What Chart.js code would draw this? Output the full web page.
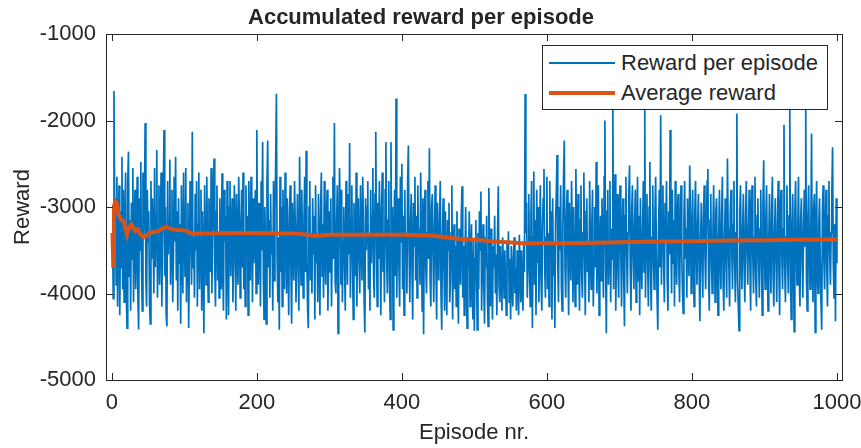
<!DOCTYPE html>
<html>
<head>
<meta charset="utf-8">
<script src="https://cdn.jsdelivr.net/npm/chart.js@4.4.1/dist/chart.umd.min.js"></script>
<style>
  html, body { margin: 0; padding: 0; background: #fff; }
  #wrap { position: relative; width: 861px; height: 448px; }
  #legend { position: absolute; left: 542px; top: 45px; width: 286px; height: 65px; box-sizing: border-box;
            border: 1px solid #262626; background: #fff; color: #262626; }
  .item { position: absolute; left: 0; height: 30px; display: flex; align-items: center; white-space: nowrap; }
  .swatch { display: inline-block; width: 66px; margin-left: 6px; margin-right: 6px; }
</style>
</head>
<body>
<div id="wrap">
  <canvas id="chart" width="861" height="448"></canvas>
  <div id="legend"></div>
</div>
<script>
// reward per episode, episodes 1..1000 (20 per row)
const rewards = [
  -3300,-4060,-1660,-3100,-2900,-3900,-2650,-4150,-3200,-2750,-4250,-3050,-3700,-2420,-3950,-2800,-4100,-3350,-2600,-4000,
  -4400,-2700,-2360,-3800,-3150,-4200,-2950,-3600,-2550,-4100,-3300,-2800,-3950,-3450,-2650,-4050,-4415,-2900,-3500,-2480,
  -3700,-4200,-2600,-3350,-2950,-2030,-3850,-4150,-2800,-3400,-3050,-4100,-4350,-2700,-3600,-2900,-3250,-4000,-2550,-3700,
  -3100,-2340,-4050,-3450,-2750,-3900,-3200,-2600,-4150,-3350,-2850,-2110,-3800,-3000,-4250,-4380,-2700,-3550,-3150,-2450,
  -3900,-3300,-2800,-4100,-3600,-2650,-3400,-2420,-3850,-3050,-4200,-2900,-3650,-3200,-4350,-2750,-3500,-4000,-2600,-3300,
  -3800,-2550,-4100,-3250,-2950,-4400,-3600,-2700,-3150,-3900,-2130,-3700,-3350,-4050,-2850,-3500,-2700,-4150,-3200,-2600,
  -3950,-3400,-2800,-4200,-3050,-3600,-4460,-2750,-3300,-3900,-2650,-3550,-4100,-2900,-3250,-3750,-2550,-4000,-3350,-2850,
  -2440,-3700,-4150,-3050,-2750,-3850,-3300,-4050,-2900,-3500,-3950,-2610,-3650,-4200,-2800,-3400,-3100,-4300,-2700,-3600,
  -4250,-3000,-2700,-3800,-3350,-2900,-4100,-3600,-2750,-3250,-4200,-2850,-3500,-3900,-2650,-3150,-4050,-3400,-2800,-3700,
  -2600,-3950,-3300,-4150,-2750,-3550,-3100,-4250,-2700,-3450,-3850,-2650,-3200,-4100,-2900,-3650,-3350,-2800,-4000,-2110,
  -3600,-3900,-2950,-3250,-4150,-2700,-3500,-2250,-3800,-4300,-3000,-3450,-4350,-2750,-2230,-3700,-3150,-4050,-2850,-3550,
  -3300,-4200,-2700,-3850,-3050,-2500,-1690,-3600,-4100,-3350,-4420,-2650,-3750,-3000,-4150,-2800,-3450,-3950,-2600,-3250,
  -4000,-2900,-3550,-4250,-3100,-2750,-3700,-4350,-2950,-3400,-3850,-2700,-3200,-4100,-3500,-2850,-3650,-4200,-2420,-3300,
  -3900,-2800,-3450,-4050,-3150,-2650,-3750,-2350,-3600,-4150,-4400,-3000,-2700,-3850,-3300,-4000,-2900,-3550,-3100,-4300,
  -2750,-3650,-3350,-4100,-2850,-3500,-4250,-3000,-2600,-3800,-3200,-4050,-2700,-3450,-3900,-3100,-2800,-4200,-3600,-3050,
  -3750,-2900,-4150,-3350,-2650,-3600,-2030,-3850,-4000,-3200,-2750,-4460,-3500,-2550,-3050,-3900,-2800,-4100,-3400,-3000,
  -3650,-4200,-2700,-3250,-3900,-2850,-3550,-2260,-4050,-3150,-2750,-3700,-4300,-2950,-3400,-3800,-2600,-4150,-3250,-2900,
  -3600,-4000,-2750,-3350,-3850,-2650,-3200,-4100,-4450,-2900,-3500,-3000,-2700,-3950,-3300,-4200,-2800,-3650,-3100,-2550,
  -3800,-4050,-2850,-2130,-3450,-4150,-2950,-3600,-2700,-3300,-4250,-3050,-2600,-3750,-3350,-4100,-2800,-2250,-3550,-4000,
  -3150,-2700,-3900,-4300,-2250,-3650,-3000,-4420,-3450,-2800,-3800,-1745,-4050,-3250,-2900,-3700,-4150,-2650,-3400,-2500,
  -3950,-3100,-4250,-2800,-3600,-3300,-4000,-2700,-2290,-3500,-4100,-3200,-2850,-3750,-4300,-2950,-3450,-2650,-3850,-3100,
  -4050,-2750,-3550,-3250,-3900,-2600,-3400,-4200,-2900,-4470,-3100,-2800,-3700,-4000,-3300,-2700,-3600,-2320,-3850,-4150,
  -3000,-2850,-3550,-4100,-3250,-2750,-3700,-4300,-2950,-3450,-3850,-3100,-2700,-4000,-4420,-3350,-2900,-3650,-4200,-3050,
  -3700,-4250,-3150,-3500,-2950,-4100,-3850,-3300,-2750,-4300,-3600,-3200,-3950,-3450,-4150,-3050,-3750,-4350,-3250,-3550,
  -3900,-3100,-2760,-4050,-3450,-4250,-3650,-3000,-3850,-4400,-3350,-3700,-3050,-4150,-3550,-3200,-3900,-4300,-3400,-4430,
  -3600,-3150,-3800,-4420,-3300,-3950,-3050,-3500,-2820,-4200,-3650,-3200,-3900,-4350,-3350,-3700,-3100,-4050,-4380,-2780,
  -3550,-4150,-3250,-3850,-4300,-3450,-3700,-3100,-4000,-3550,-4250,-3300,-2760,-3900,-4100,-3450,-3750,-4200,-3350,-3650,
  -4050,-3500,-3850,-4250,-3400,-3700,-3280,-4100,-3600,-4300,-3450,-3800,-4150,-3550,-3350,-4000,-3700,-4200,-3500,-3850,
  -4250,-3320,-3650,-4100,-3500,-3900,-4200,-3400,-3750,-1695,-3300,-2950,-4050,-3450,-2850,-3750,-4150,-3100,-2700,-4400,
  -3350,-2590,-3900,-3150,-4250,-2800,-3650,-3000,-4100,-3450,-2750,-3850,-4200,-3200,-2900,-2560,-3700,-4050,-3350,-2650,
  -3950,-3300,-4150,-2700,-3550,-3050,-4300,-2900,-3800,-3400,-4400,-3150,-2850,-2400,-3650,-4100,-3000,-3500,-2750,-3900,
  -4200,-3250,-2650,-2230,-3700,-4050,-3100,-2800,-3600,-4250,-2950,-3450,-3850,-2700,-3300,-4100,-3000,-3550,-4150,-2560,
  -3400,-3900,-2850,-3650,-4200,-3150,-2750,-3800,-4050,-3300,-2600,-3550,-4250,-3050,-2900,-3750,-3400,-4100,-2700,-3500,
  -3950,-3200,-2800,-4150,-3600,-3000,-3700,-2480,-4000,-3350,-2750,-4250,-3500,-3100,-3850,-2900,-3550,-4050,-2650,-2000,
  -3650,-4460,-3050,-2800,-3900,-3400,-2700,-4100,-3250,-3600,-1880,-3950,-3100,-2620,-4200,-3450,-2850,-3750,-4050,-3000,
  -2750,-3550,-4150,-3250,-2900,-3800,-4380,-3100,-2650,-3500,-4000,-3300,-2850,-2520,-3700,-4200,-3050,-2750,-3600,-3950,
  -3200,-2800,-4100,-3450,-2650,-3850,-3100,-4250,-2900,-3550,-3950,-3300,-2700,-3750,-1880,-4050,-3200,-2850,-3650,-4150,
  -3000,-2480,-3800,-4200,-3350,-2750,-3600,-3950,-3100,-2650,-3500,-4050,-4420,-3250,-2800,-3700,-1940,-3900,-3150,-2750,
  -3600,-4100,-2950,-3400,-2700,-3850,-4200,-3050,-3550,-2110,-3300,-4000,-2800,-3650,-3150,-4150,-2700,-3450,-3900,-3050,
  -2850,-3700,-4100,-3300,-2750,-3550,-3950,-4230,-3150,-2700,-3600,-3250,-4050,-2900,-3450,-3800,-2520,-3100,-4000,-3350,
  -2800,-3650,-4150,-3050,-2700,-3500,-3900,-3200,-2850,-3750,-4320,-3400,-2950,-3600,-4050,-3100,-2750,-3550,-3950,-3250,
  -2700,-2560,-3800,-4200,-3150,-2850,-3650,-4000,-3300,-2750,-3500,-4100,-3050,-2900,-3700,-4250,-3350,-2800,-3600,-3950,
  -3100,-2650,-3850,-4200,-3400,-2900,-3600,-4050,-2440,-3250,-3700,-4150,-3000,-2800,-3500,-3950,-3200,-2700,-3650,-4100,
  -3300,-1920,-3850,-4150,-4430,-3050,-2750,-3600,-3950,-3250,-2850,-3700,-4100,-3150,-2700,-3500,-3900,-3300,-2800,-3650,
  -4200,-3050,-2750,-3550,-4000,-3350,-2650,-3800,-4150,-3100,-2900,-3600,-4050,-3250,-2800,-3700,-4250,-3000,-2460,-3500,
  -3950,-3150,-2750,-3650,-4200,-3400,-2850,-3550,-4000,-3050,-2650,-3800,-4150,-3300,-2900,-3600,-4100,-3200,-2700,-3750,
  -4250,-3000,-2800,-3550,-3950,-3250,-2050,-3700,-4100,-3350,-2750,-3600,-4000,-3100,-1860,-3850,-4300,-3200,-2850,-3650,
  -4440,-3050,-2700,-3500,-3900,-3300,-2650,-3750,-4150,-3150,-2900,-3600,-4050,-3250,-2800,-3450,-1880,-3850,-4200,-3100,
  -2750,-3550,-3950,-3350,-2150,-3700,-4100,-3000,-2850,-4450,-3400,-2700,-3800,-4000,-3200,-2900,-3650,-4100,-4420,-3050,
  -2750,-3600,-3950,-3250,-2800,-3700,-4150,-3100,-2700,-3500,-3900,-3300,-2850,-2310,-3650,-4050,-3200,-4320,-2900,-3650
]

// running average, read at these episodes
const avgEpisodes = [1, 2, 3, 5, 7, 9, 11, 13, 16, 19, 21, 24, 27, 30, 33, 36, 40, 44, 48, 52, 58, 64, 70, 75, 80, 85, 92, 100,
  106, 110, 130, 160, 200, 250, 270, 280, 300, 350, 400, 440, 460, 480, 500, 530, 566, 600, 650, 700, 750, 800, 850, 900, 950, 1000]
const avgValues = [-3300, -3680, -2990, -2940, -2960, -3080, -3120, -3150, -3160, -3260, -3320, -3230, -3200, -3250, -3280, -3260, -3320, -3350, -3330, -3300, -3290, -3280, -3250, -3225, -3250, -3260, -3265, -3268,
  -3290, -3305, -3305, -3300, -3300, -3305, -3320, -3335, -3320, -3320, -3322, -3330, -3350, -3370, -3380, -3400, -3420, -3420, -3415, -3408, -3400, -3395, -3388, -3384, -3380, -3377]

const xTicks = [0, 200, 400, 600, 800, 1000]
const yTicks = [-5000, -4000, -3000, -2000, -1000]

const BLUE = '#0072BD'
const ORANGE = '#D95319'
const INK = '#262626'
const FAMILY = '"Liberation Sans", Arial, sans-serif'
const FS = 22

// matlab style box with inward ticks
const boxPlugin = {
  id: 'box',
  afterDraw(chart) {
    const { ctx, chartArea: a, scales } = chart
    const len = 7
    ctx.save()
    ctx.strokeStyle = INK
    ctx.lineWidth = 1
    ctx.beginPath()
    xTicks.forEach(v => {
      const px = Math.round(scales.x.getPixelForValue(v)) + 0.5
      ctx.moveTo(px, a.bottom); ctx.lineTo(px, a.bottom - len)
      ctx.moveTo(px, a.top); ctx.lineTo(px, a.top + len)
    })
    yTicks.forEach(v => {
      const py = Math.round(scales.y.getPixelForValue(v)) + 0.5
      ctx.moveTo(a.left, py); ctx.lineTo(a.left + len, py)
      ctx.moveTo(a.right, py); ctx.lineTo(a.right - len, py)
    })
    ctx.stroke()
    ctx.strokeRect(Math.round(a.left) + 0.5, Math.round(a.top) + 0.5, Math.round(a.right - a.left), Math.round(a.bottom - a.top))
    ctx.restore()
  }
}

const episodes = rewards.map((_, i) => i + 1)

const chart = new Chart(document.getElementById('chart'), {
  type: 'scatter',
  data: {
    datasets: [
      { label: 'Reward per episode', data: rewards.map((r, i) => ({ x: episodes[i], y: r })), order: 1,
        showLine: true, borderColor: BLUE, backgroundColor: BLUE, borderWidth: 1.7, pointRadius: 0, tension: 0 },
      { label: 'Average reward', data: avgValues.map((v, i) => ({ x: avgEpisodes[i], y: v })), order: 0,
        showLine: true, borderColor: ORANGE, backgroundColor: ORANGE, borderWidth: 4, pointRadius: 0, tension: 0 }
    ]
  },
  options: {
    responsive: false, animation: false,
    layout: { padding: { left: 0, right: 19, top: 0, bottom: 0 } },
    plugins: {
      legend: { display: false },
      tooltip: { enabled: false },
      title: { display: true, text: 'Accumulated reward per episode', color: INK,
        font: { family: FAMILY, size: FS, weight: 'bold', lineHeight: 1 }, padding: { top: 7, bottom: 5 } }
    },
    scales: {
      x: {
        type: 'linear', min: -8, max: 1007,
        afterBuildTicks: s => { s.ticks = xTicks.map(v => ({ value: v })) },
        afterFit: s => { s.height = 68; s.paddingLeft = 0; s.paddingRight = 0 },
        grid: { display: false, drawTicks: false },
        border: { display: false },
        ticks: { color: INK, padding: 12, maxRotation: 0, callback: v => String(v),
          font: { family: FAMILY, size: FS, lineHeight: 1 } },
        title: { display: true, text: 'Episode nr.', color: INK, padding: { top: 0, bottom: 4 },
          font: { family: FAMILY, size: FS, lineHeight: 1 } }
      },
      y: {
        min: -5000, max: -1000,
        afterBuildTicks: s => { s.ticks = yTicks.map(v => ({ value: v })) },
        afterFit: s => { s.width = 106; s.paddingTop = 0; s.paddingBottom = 0 },
        grid: { display: false, drawTicks: false },
        border: { display: false },
        ticks: { color: INK, padding: 10, callback: v => String(v),
          font: { family: FAMILY, size: FS, lineHeight: 1 } },
        title: { display: true, text: 'Reward', color: INK, padding: { top: 12, bottom: 0 },
          font: { family: FAMILY, size: FS, lineHeight: 1 } }
      }
    }
  },
  plugins: [boxPlugin]
})

// legend box drawn in html, from the datasets
const legend = document.getElementById('legend')
legend.style.font = FS + 'px ' + FAMILY
chart.data.datasets.forEach((ds, i) => {
  const row = document.createElement('div')
  row.className = 'item'
  row.style.top = (2 + i * 30) + 'px'
  const sw = document.createElement('span')
  sw.className = 'swatch'
  sw.style.borderTop = Math.max(2, Math.round(ds.borderWidth)) + 'px solid ' + ds.borderColor
  const label = document.createElement('span')
  label.textContent = ds.label
  row.appendChild(sw)
  row.appendChild(label)
  legend.appendChild(row)
})
</script>
</body>
</html>
